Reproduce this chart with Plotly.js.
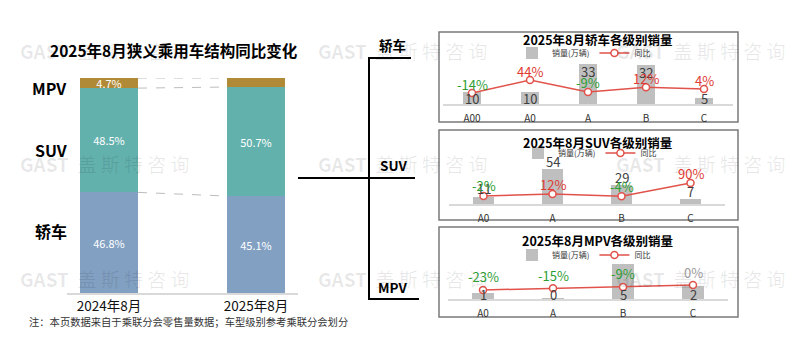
<!DOCTYPE html>
<html><head><meta charset="utf-8">
<script src="https://cdn.plot.ly/plotly-3.0.1.min.js"></script>
<style>html,body{margin:0;padding:0;background:#fff}#chart{width:800px;height:354px}</style>
</head><body><div id="chart"></div>
<script>
// ---- data ----
const periods = ['2024年8月', '2025年8月'];
const shareSedan = [46.8, 45.1];
const shareSUV = [48.5, 50.7];
const shareMPV = [4.7, 4.2];

const sedanGrades = ['A00', 'A0', 'A', 'B', 'C'];
const sedanSales = [10, 10, 33, 32, 5];
const sedanYoY = [-14, 44, -9, 12, 4];

const suvGrades = ['A0', 'A', 'B', 'C'];
const suvSales = [11, 54, 29, 7];
const suvYoY = [-2, 12, -4, 90];

const mpvGrades = ['A0', 'A', 'B', 'C'];
const mpvSales = [0.9, 0.1, 5, 1.9];
const mpvYoY = [-23, -15, -9, 0];

const segNames = ['轿车', 'SUV', 'MPV'];
const note = '注：本页数据来自于乘联分会零售量数据；车型级别参考乘联分会划分';
const mainTitle = '2025年8月狭义乘用车结构同比变化';
const watermark = '<b>GAST</b>\u00a0\u00a0盖\u00a0斯\u00a0特\u00a0咨\u00a0询';

// ---- helpers / styles ----
const W = 800, H = 354;
const px = x => x / W, py = y => 1 - y / H;
const FONT = 'Noto Sans CJK SC, Noto Sans, sans-serif';
const C_SEDAN = '#82A0C2', C_SUV = '#63B1AD', C_MPV = '#B08A37';
const C_BAR = '#BFBFBF', C_LINE = '#E0524A';
const C_POS = '#E03A33', C_NEG = '#2E9E34', C_ZERO = '#9A9A9A';

const traces = [];
const annotations = [];
const shapes = [];
const layout = {
  width: W, height: H, autosize: false,
  margin: {l: 0, r: 0, t: 0, b: 0},
  paper_bgcolor: '#fff', plot_bgcolor: 'rgba(0,0,0,0)',
  font: {family: FONT, color: '#222'},
  barmode: 'stack', showlegend: true,
  annotations, shapes
};

// watermarks (drawn first, lowest)
[50, 163, 278].forEach(y => [18, 316, 614].forEach(x => {
  annotations.push({xref: 'paper', yref: 'paper', x: px(x), y: py(y), xanchor: 'left', yanchor: 'middle',
    text: watermark, showarrow: false, font: {size: 19, family: FONT, color: 'rgba(0,0,0,0.09)'}});
}));

// ---- left stacked chart ----
const barW = 0.395;
const leftSeries = [[segNames[0], shareSedan, C_SEDAN], [segNames[1], shareSUV, C_SUV], [segNames[2], shareMPV, C_MPV]];
leftSeries.forEach(([nm, vals, col]) => {
  traces.push({type: 'bar', x: periods, y: vals, name: nm, xaxis: 'x', yaxis: 'y', width: barW,
    marker: {color: col, line: {width: 0}}, showlegend: false,
    text: vals.map(v => v.toFixed(1) + '%'), textposition: 'inside', insidetextanchor: 'middle',
    constraintext: 'none', textfont: {color: '#fff', size: 11, family: FONT}, cliponaxis: false, hoverinfo: 'skip'});
});
layout.xaxis = {domain: [px(67), px(298)], anchor: 'y', type: 'category', range: [-0.2857, 1.2857],
  showgrid: false, zeroline: false, showline: true, linecolor: '#D9D9D9', linewidth: 1.5, ticks: '',
  tickfont: {size: 13.5, color: '#111', family: FONT}, fixedrange: true};
layout.yaxis = {domain: [py(293), py(78)], anchor: 'x', range: [0, 100], visible: false, fixedrange: true};

// dashed connectors between the two bars, computed from the cumulative shares
const cumTop = i => [shareSedan[i] + shareSUV[i] + shareMPV[i], shareSedan[i] + shareSUV[i], shareSedan[i]];
const c0 = cumTop(0), c1 = cumTop(1);
c0.forEach((v, k) => shapes.push({type: 'line', xref: 'x', yref: 'y', x0: 0 + barW / 2, x1: 1 - barW / 2,
  y0: v, y1: c1[k], line: {color: '#BDBDBD', width: 1, dash: 'dash'}}));

annotations.push({xref: 'paper', yref: 'paper', x: px(174), y: py(50), text: '<b>' + mainTitle + '</b>',
  showarrow: false, font: {size: 15.5, color: '#000', family: FONT}, xanchor: 'center', yanchor: 'middle'});
[[segNames[2], 49, 88], [segNames[1], 51, 150], [segNames[0], 51, 231]].forEach(([t, x, y]) =>
  annotations.push({xref: 'paper', yref: 'paper', x: px(x), y: py(y), text: '<b>' + t + '</b>', showarrow: false,
    font: {size: 16, color: '#000', family: FONT}, xanchor: 'center', yanchor: 'middle'}));
annotations.push({xref: 'paper', yref: 'paper', x: px(27), y: py(321), text: note, showarrow: false,
  font: {size: 10.3, color: '#333', family: FONT}, xanchor: 'left', yanchor: 'middle'});

// ---- bracket ----
const blk = {color: '#000', width: 2};
[[298, 178, 369, 178], [369, 57, 369, 300], [369, 58, 411, 58], [369, 178, 415, 178], [369, 299, 419, 299]]
  .forEach(([a, b, c, d]) => shapes.push({type: 'line', xref: 'paper', yref: 'paper',
    x0: px(a), y0: py(b), x1: px(c), y1: py(d), line: blk}));
[[segNames[0], 392, 45], [segNames[1], 393, 165], [segNames[2], 393, 287]].forEach(([t, x, y]) =>
  annotations.push({xref: 'paper', yref: 'paper', x: px(x), y: py(y), text: '<b>' + t + '</b>', showarrow: false,
    font: {size: 13.5, color: '#000', family: FONT}, xanchor: 'center', yanchor: 'middle'}));

// ---- right panels ----
const panels = [
  {title: '2025年8月轿车各级别销量', cats: sedanGrades, sales: sedanSales, yoy: sedanYoY,
   box: [439, 32, 738, 122], x0: 443, x1: 733, base: 104, top: 60, barPx: 1.21, zero: 89.9, pctPx: 0.224,
   titleY: 39, legX: 584, legY: 53, labelMode: 'insideEnd', yoyShift: 9},
  {title: '2025年8月SUV各级别销量', cats: suvGrades, sales: suvSales, yoy: suvYoY,
   box: [439, 130, 738, 220], x0: 449, x1: 725, base: 204, top: 160, barPx: 0.648, zero: 195.7, pctPx: 0.141,
   titleY: 142, legX: 590, legY: 153, labelMode: 'outside', yoyShift: 10},
  {title: '2025年8月MPV各级别销量', cats: mpvGrades, sales: mpvSales, yoy: mpvYoY,
   box: [439, 227, 738, 317], x0: 448, x1: 728, base: 299, top: 262, barPx: 6.94, zero: 285, pctPx: 0.217,
   titleY: 240, legX: 584, legY: 255, labelMode: 'base', yoyShift: 13}
];

panels.forEach((p, i) => {
  const xa = 'x' + (i + 2), yb = 'y' + (2 * i + 2), yl = 'y' + (2 * i + 3);
  const lg = 'legend' + (i + 2);
  const barRange = [0, (p.base - p.top) / p.barPx];
  const pctRange = [-(p.base - p.zero) / p.pctPx, (p.zero - p.top) / p.pctPx];

  layout['xaxis' + (i + 2)] = {domain: [px(p.x0), px(p.x1)], anchor: yb, type: 'category',
    showgrid: false, zeroline: false, showline: true, linecolor: '#D9D9D9', linewidth: 1.5, ticks: '',
    ticklabelstandoff: 4, tickfont: {size: 10, color: '#333', family: FONT}, fixedrange: true};
  layout['yaxis' + (2 * i + 2)] = {domain: [py(p.base), py(p.top)], anchor: xa, range: barRange,
    visible: false, fixedrange: true};
  layout['yaxis' + (2 * i + 3)] = {overlaying: yb, anchor: xa, side: 'right', range: pctRange,
    visible: false, fixedrange: true};

  traces.push({type: 'bar', x: p.cats, y: p.sales, name: '销量(万辆)', xaxis: xa, yaxis: yb, width: 0.31,
    marker: {color: C_BAR}, legend: lg, showlegend: true, hoverinfo: 'skip'});
  traces.push({type: 'scatter', mode: 'lines+markers', x: p.cats, y: p.yoy, name: '同比', xaxis: xa, yaxis: yl,
    line: {color: C_LINE, width: 1.5}, marker: {symbol: 'circle', size: 7, color: '#fff', line: {color: C_LINE, width: 1.5}},
    legend: lg, showlegend: true, cliponaxis: false, hoverinfo: 'skip'});

  layout[lg] = {x: px(p.legX), y: py(p.legY), xanchor: 'center', yanchor: 'middle', orientation: 'h',
    font: {size: 8, family: FONT, color: '#333'}, bgcolor: 'rgba(0,0,0,0)', itemwidth: 30,
    traceorder: 'normal', tracegroupgap: 0};

  // box
  shapes.push({type: 'rect', xref: 'paper', yref: 'paper', x0: px(p.box[0]), y0: py(p.box[1]),
    x1: px(p.box[2]), y1: py(p.box[3]), line: {color: '#7A7A7A', width: 1.5}, layer: 'below'});
  // title
  annotations.push({xref: 'paper', yref: 'paper', x: px(597), y: py(p.titleY), text: '<b>' + p.title + '</b>',
    showarrow: false, font: {size: 12.5, color: '#000', family: FONT}, xanchor: 'center', yanchor: 'middle'});

  // bar value labels
  p.sales.forEach((v, k) => {
    const topPx = p.base - v * p.barPx;
    let center, yv = v;
    if (p.labelMode === 'insideEnd') center = Math.min(topPx + 7, p.base - 6);
    else if (p.labelMode === 'outside') center = topPx - 8;
    else { center = p.base - 5; yv = 0; }
    const refPx = p.labelMode === 'base' ? p.base : topPx;
    annotations.push({xref: xa, yref: yb, x: p.cats[k], y: yv, yshift: refPx - center, text: String(Math.round(v)),
      showarrow: false, xanchor: 'center', yanchor: 'middle', font: {size: 13, color: '#404040', family: FONT}});
  });
  // YoY labels
  p.yoy.forEach((v, k) => {
    annotations.push({xref: xa, yref: yl, x: p.cats[k], y: v, yshift: p.yoyShift, text: v + '%',
      showarrow: false, xanchor: 'center', yanchor: 'middle',
      font: {size: 13, color: v > 0 ? C_POS : (v < 0 ? C_NEG : C_ZERO), family: FONT}});
  });
});

Plotly.newPlot('chart', traces, layout, {staticPlot: true, displayModeBar: false});
</script></body></html>
